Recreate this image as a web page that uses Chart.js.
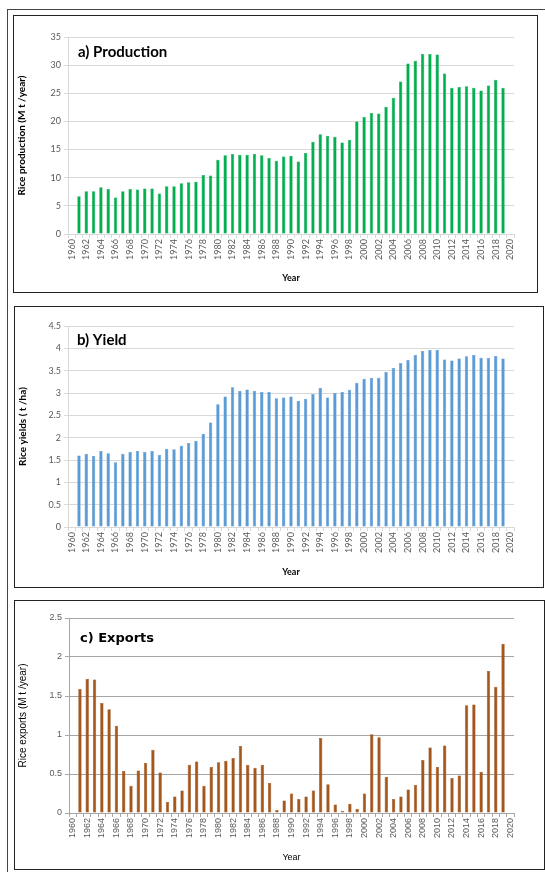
<!DOCTYPE html>
<html>
<head>
<meta charset="utf-8">
<script src="https://cdn.jsdelivr.net/npm/chart.js@4.4.1/dist/chart.umd.min.js"></script>
<style>
  html, body { margin: 0; padding: 0; background: #fff; }
  body { width: 545px; height: 872px; position: relative; overflow: hidden; }
  .outer { position: absolute; left: 7px; top: 9px; width: 545px; height: 880px; border-left: 1px solid #444; border-top: 1px solid #444; }
  .panel { position: absolute; border: 1.5px solid #222; box-sizing: border-box; background: #fff; }
  .panel canvas { position: absolute; left: 0; top: 0; }
</style>
</head>
<body>
<div class="outer"></div>
<div class="panel" style="left:13px;top:15px;width:525px;height:278px"><canvas id="chartA"></canvas></div>
<div class="panel" style="left:14px;top:306px;width:530px;height:282px"><canvas id="chartB"></canvas></div>
<div class="panel" style="left:14px;top:600px;width:531px;height:270px"><canvas id="chartC"></canvas></div>
<script>
const years = ['1960', '1961', '1962', '1963', '1964', '1965', '1966', '1967', '1968', '1969',
  '1970', '1971', '1972', '1973', '1974', '1975', '1976', '1977', '1978', '1979',
  '1980', '1981', '1982', '1983', '1984', '1985', '1986', '1987', '1988', '1989',
  '1990', '1991', '1992', '1993', '1994', '1995', '1996', '1997', '1998', '1999',
  '2000', '2001', '2002', '2003', '2004', '2005', '2006', '2007', '2008', '2009',
  '2010', '2011', '2012', '2013', '2014', '2015', '2016', '2017', '2018', '2019', '2020'];

// Mt / year
const production = [null,
  6.7, 7.6, 7.6, 8.3, 8.0, 6.5, 7.6, 8.0, 7.9, 8.1,
  8.1, 7.2, 8.5, 8.5, 9.0, 9.2, 9.3, 10.5, 10.4, 13.2,
  14.0, 14.2, 14.1, 14.1, 14.2, 14.0, 13.5, 13.0, 13.75, 13.9,
  12.9, 14.4, 16.4, 17.7, 17.4, 17.3, 16.25, 16.7, 20.0, 20.8,
  21.5, 21.4, 22.6, 24.2, 27.1, 30.3, 30.8, 32.0, 32.0, 31.9,
  28.5, 26.0, 26.1, 26.25, 26.0, 25.5, 26.4, 27.4, 26.0, null];

// t / ha
const yields = [null,
  1.60, 1.64, 1.59, 1.70, 1.65, 1.45, 1.64, 1.68, 1.70, 1.68,
  1.70, 1.62, 1.75, 1.74, 1.82, 1.88, 1.93, 2.09, 2.34, 2.75,
  2.92, 3.13, 3.05, 3.08, 3.05, 3.02, 3.03, 2.88, 2.90, 2.92,
  2.82, 2.87, 2.98, 3.11, 2.90, 3.00, 3.02, 3.07, 3.23, 3.32,
  3.34, 3.34, 3.47, 3.56, 3.67, 3.74, 3.85, 3.94, 3.96, 3.97,
  3.75, 3.73, 3.77, 3.82, 3.85, 3.79, 3.79, 3.83, 3.77, null];

// Mt / year
const exportsMt = [null,
  1.59, 1.72, 1.71, 1.41, 1.33, 1.12, 0.54, 0.35, 0.545, 0.64,
  0.81, 0.52, 0.14, 0.21, 0.29, 0.62, 0.66, 0.35, 0.59, 0.65,
  0.67, 0.705, 0.86, 0.62, 0.58, 0.62, 0.385, 0.04, 0.16, 0.25,
  0.18, 0.21, 0.29, 0.96, 0.37, 0.11, 0.03, 0.12, 0.05, 0.25,
  1.01, 0.97, 0.46, 0.18, 0.21, 0.30, 0.36, 0.68, 0.84, 0.59,
  0.865, 0.45, 0.48, 1.38, 1.39, 0.53, 1.82, 1.62, 2.17, null];

const panelTitle = {
  id: 'panelTitle',
  afterDraw(chart, args, opts) {
    const { ctx, chartArea } = chart;
    ctx.save();
    ctx.font = opts.font;
    ctx.fillStyle = '#000';
    ctx.textBaseline = 'middle';
    ctx.fillText(opts.text, chartArea.left + opts.dx, chartArea.top + opts.dy);
    ctx.restore();
  },
};

function makePanel(id, cfg) {
  const canvas = document.getElementById(id);
  canvas.width = cfg.w;
  canvas.height = cfg.h;
  canvas.style.width = cfg.w + 'px';
  canvas.style.height = cfg.h + 'px';
  const tickFont = { family: cfg.family, size: 9 };

  return new Chart(canvas.getContext('2d'), {
    type: 'bar',
    data: {
      labels: years,
      datasets: [{
        data: cfg.data,
        backgroundColor: cfg.color,
        borderColor: cfg.edge,
        borderWidth: 0.5,
        barPercentage: 0.46,
        categoryPercentage: 1,
      }],
    },
    options: {
      responsive: false,
      animation: false,
      layout: { padding: { top: cfg.padTop, right: cfg.padRight, left: 0, bottom: 0 } },
      plugins: {
        legend: { display: false },
        tooltip: { enabled: false },
        panelTitle: cfg.title,
      },
      scales: {
        x: {
          afterFit: (s) => { s.height = cfg.xHeight; },
          border: { color: cfg.axisColor },
          grid: { drawOnChartArea: false, drawTicks: true, tickLength: 4, color: cfg.axisColor },
          ticks: {
            autoSkip: false,
            maxRotation: 90,
            minRotation: 90,
            padding: 1,
            color: '#595959',
            font: tickFont,
            callback: function (v, i) { return i % 2 === 0 ? this.getLabelForValue(v) : ''; },
          },
          title: {
            display: true,
            text: 'Year',
            color: '#000',
            font: cfg.xTitleFont,
            padding: { top: 0, bottom: cfg.xTitlePad },
          },
        },
        y: {
          min: 0,
          max: cfg.max,
          afterFit: (s) => { s.width = cfg.yWidth; },
          border: { color: cfg.axisColor },
          grid: { color: cfg.gridColor, tickLength: 4, lineWidth: 1 },
          ticks: {
            stepSize: cfg.step,
            color: '#595959',
            font: tickFont,
            padding: 3,
            callback: (v) => String(Math.round(v * 10) / 10),
          },
          title: {
            display: true,
            text: cfg.yTitle,
            color: '#000',
            font: cfg.yTitleFont,
            padding: { top: 2, bottom: 0 },
          },
        },
      },
    },
    plugins: [panelTitle],
  });
}

makePanel('chartA', {
  w: 522, h: 275, data: production, color: '#00b050', edge: '#00a046',
  max: 35, step: 5, padTop: 21, padRight: 22, xHeight: 57, yWidth: 54,
  family: 'Lato', axisColor: '#d9d9d9', gridColor: '#d9d9d9',
  yTitle: 'Rice production (M t /year)', yTitleFont: { family: 'Lato', size: 10, weight: 'bold' },
  xTitleFont: { family: 'Lato', size: 9, weight: 'bold' }, xTitlePad: 8,
  title: { text: 'a) Production', font: 'bold 15px Lato', dx: 10, dy: 15 },
});

makePanel('chartB', {
  w: 527, h: 279, data: yields, color: '#5b9bd5', edge: '#4a8ccc',
  max: 4.5, step: 0.5, padTop: 19, padRight: 28, xHeight: 59, yWidth: 53,
  family: 'Lato', axisColor: '#d9d9d9', gridColor: '#d9d9d9',
  yTitle: 'Rice yields ( t /ha)', yTitleFont: { family: 'Lato', size: 10, weight: 'bold' },
  xTitleFont: { family: 'Lato', size: 9, weight: 'bold' }, xTitlePad: 9,
  title: { text: 'b) Yield', font: 'bold 15px Lato', dx: 9, dy: 14 },
});

makePanel('chartC', {
  w: 528, h: 267, data: exportsMt, color: '#a5561b', edge: '#8a420c',
  max: 2.5, step: 0.5, padTop: 17, padRight: 29, xHeight: 55, yWidth: 54,
  family: 'Liberation Sans', axisColor: '#a6a6a6', gridColor: '#a6a6a6',
  yTitle: 'Rice exports (M t /year)', yTitleFont: { family: 'Liberation Sans', size: 10 },
  xTitleFont: { family: 'Liberation Sans', size: 9 }, xTitlePad: 5,
  title: { text: 'c) Exports', font: 'bold 13px "DejaVu Sans"', dx: 11, dy: 21 },
});
</script>
</body>
</html>
